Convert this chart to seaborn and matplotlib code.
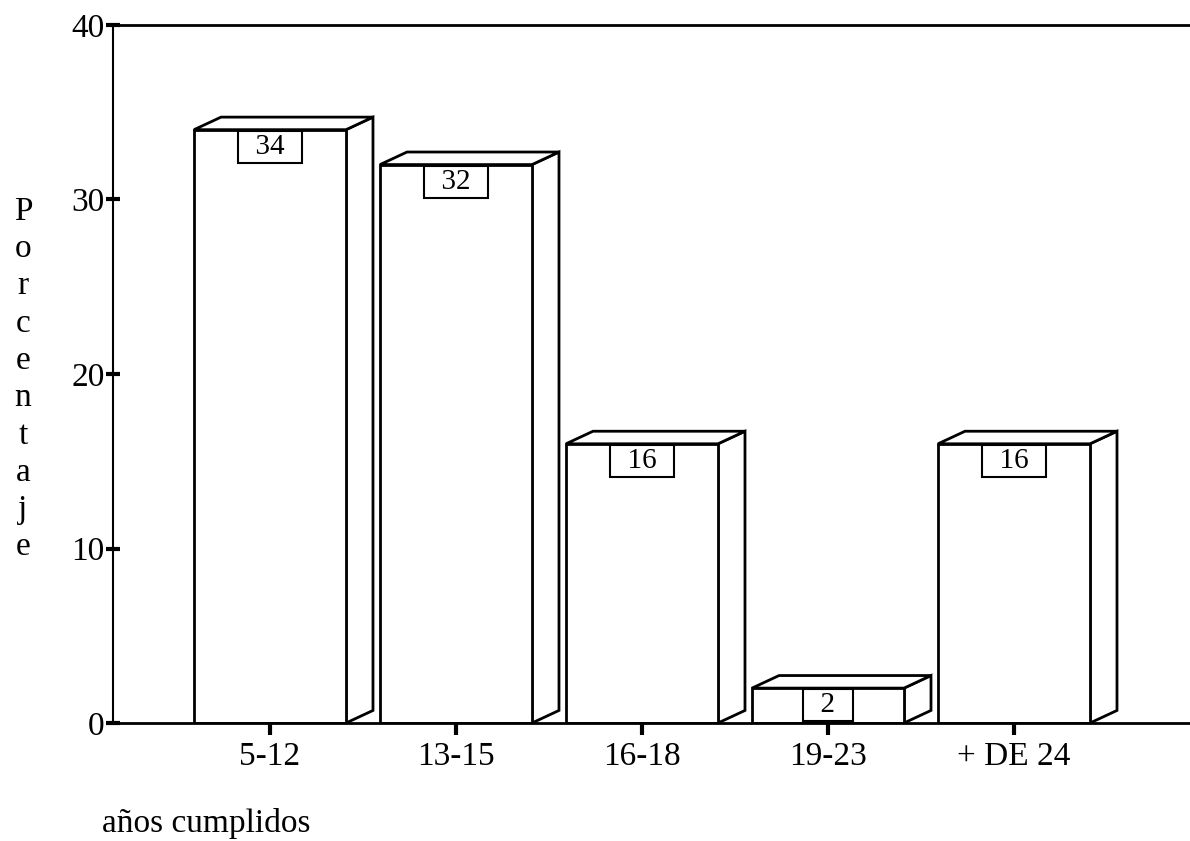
import numpy as np
import pandas as pd
import matplotlib.pyplot as plt
from matplotlib.patches import Polygon
import seaborn as sns

#################################################################
# data
#################################################################

grupos = ["5-12", "13-15", "16-18", "19-23", "+ DE 24"]
porcentaje = [34, 32, 16, 2, 16]
y_ticks = [0, 10, 20, 30, 40]

df = pd.DataFrame({"grupo": grupos, "porcentaje": porcentaje})

#################################################################
# style
#################################################################

sns.set_theme(style="white")
plt.rcParams["font.family"] = ["Liberation Serif", "DejaVu Serif"]
plt.rcParams["text.color"] = "black"

fig = plt.figure(figsize=(11.9, 8.41), dpi=100)
ax = fig.add_axes([0.095, 0.1403, 0.905, 0.8300])

bar_w = 0.817
sns.barplot(data=df, x="grupo", y="porcentaje", color="white", width=bar_w,
            edgecolor="black", linewidth=2, saturation=1, ax=ax, zorder=3)

# 3D look: side and top faces
dx, dy = 0.145, 0.72
for p in ax.patches:
    x0 = p.get_x()
    x1 = x0 + p.get_width()
    h = p.get_height()
    side = Polygon([(x1, 0), (x1 + dx, dy), (x1 + dx, h + dy), (x1, h)],
                   closed=True, facecolor="white", edgecolor="black", lw=2, zorder=2)
    top = Polygon([(x0, h), (x0 + dx, h + dy), (x1 + dx, h + dy), (x1, h)],
                  closed=True, facecolor="white", edgecolor="black", lw=2, zorder=2)
    ax.add_patch(side)
    ax.add_patch(top)

# value boxes
for i, v in enumerate(porcentaje):
    ax.annotate(f"  {v}  ", xy=(i, v), xytext=(0, -3), textcoords="offset points",
                ha="center", va="top", fontsize=21, color="black", zorder=5,
                bbox=dict(boxstyle="square,pad=0.1", fc="white", ec="black", lw=1.5))

#################################################################
# axes
#################################################################

ax.set_xlim(-0.844, 4.946)
ax.set_ylim(0, 40)
ax.set_yticks(y_ticks)
ax.set_yticklabels([str(t) for t in y_ticks], fontsize=24)
ax.set_xticks(range(len(grupos)))
ax.set_xticklabels(grupos, fontsize=24)
ax.set_xlabel("")
ax.set_ylabel("")

ax.tick_params(axis="y", direction="inout", length=10, width=3, pad=1,
               left=True, colors="black")
ax.tick_params(axis="x", direction="inout", length=17, width=3, pad=5,
               bottom=True, colors="black")
for t in ax.get_xticklines() + ax.get_yticklines():
    t.set_zorder(6)

ax.spines["right"].set_visible(False)
ax.spines["left"].set_linewidth(1.5)
ax.spines["bottom"].set_linewidth(2)
ax.spines["top"].set_linewidth(2)
for s in ax.spines.values():
    s.set_color("black")
    s.set_zorder(4)

fig.text(23 / 1190, 0.549, "\n".join("Porcentaje"), ha="center", va="center",
         fontsize=24, linespacing=1.29, color="black")
fig.text(102 / 1190, 0.0214, "años cumplidos", ha="left", va="center",
         fontsize=24, color="black")

plt.savefig("out.png", dpi=100)
plt.close()
